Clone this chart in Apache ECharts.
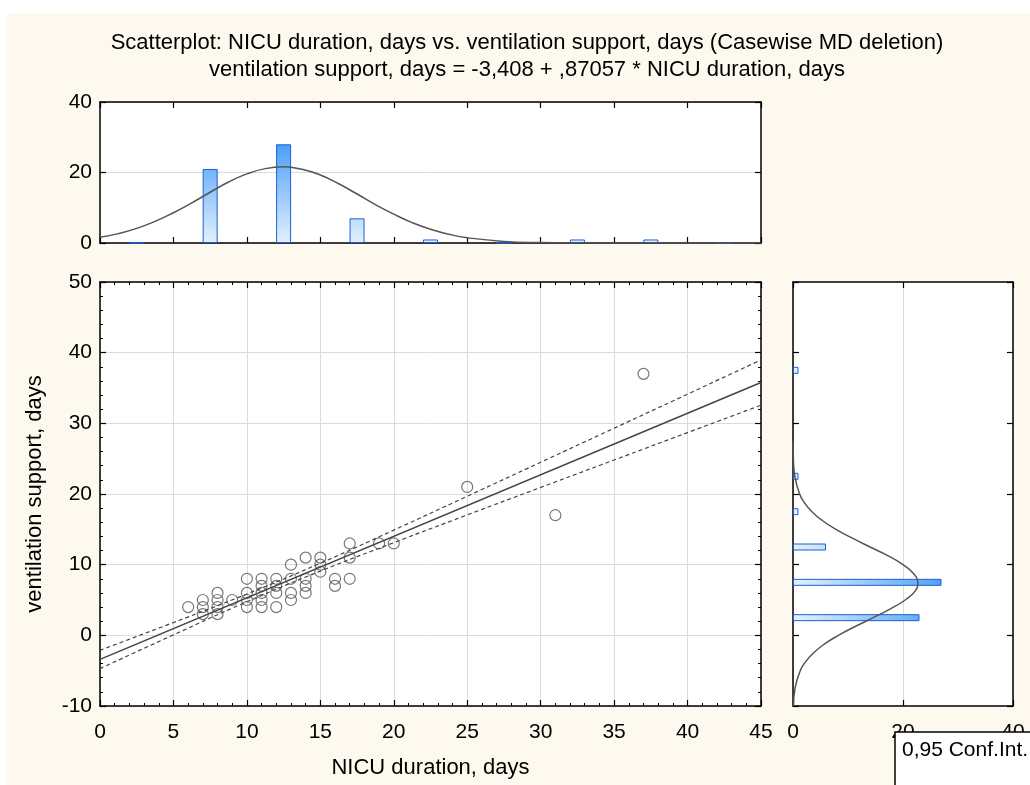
<!DOCTYPE html>
<html>
<head>
<meta charset="utf-8">
<title>NICU duration vs. ventilation support</title>
<script src="https://cdn.jsdelivr.net/npm/echarts/dist/echarts.min.js"></script>
<style>
html, body { margin: 0; padding: 0; background: #fff; }
#main { width: 1030px; height: 785px; }
</style>
</head>
<body>
<div id="main"></div>
<script>
// scatter points : NICU duration (x) / ventilation support (y), days
var nicuDays = [6, 7, 7, 7, 8, 8, 8, 8, 9, 10, 10, 10, 10, 11, 11, 11, 11, 11,
                12, 12, 12, 12, 13, 13, 13, 13, 14, 14, 14, 14, 15, 15, 15,
                16, 16, 17, 17, 17, 19, 20, 25, 31, 37];
var ventDays = [4, 5, 4, 3, 6, 5, 4, 3, 5, 8, 6, 5, 4, 8, 7, 6, 5, 4,
                8, 7, 6, 4, 10, 8, 6, 5, 11, 8, 7, 6, 11, 10, 9,
                8, 7, 13, 11, 8, 13, 13, 21, 17, 37];

// regression line ends and the 0,95 confidence band
var fitX = [0, 45];
var fitY = [-3.408, 35.77];
var ciX = [0, 5, 10, 15, 20, 25, 30, 35, 40, 45];
var ciUpper = [-2.11, 1.81, 5.85, 10.21, 14.89, 19.68, 24.49, 29.31, 34.13, 38.97];
var ciLower = [-4.71, 0.07, 4.75, 9.09, 13.11, 17.04, 20.93, 24.81, 28.69, 32.57];

// top histogram : NICU duration
var nicuBins = [2.5, 7.5, 12.5, 17.5, 22.5, 27.5, 32.5, 37.5, 42.5];
var nicuCounts = [0, 21, 28, 7, 1, 0, 1, 1, 0];
var nicuCurveX = [0, 1.25, 2.5, 3.75, 5, 6.25, 7.5, 8.75, 10, 11.25, 12.5, 13.75, 15, 16.25,
                  17.5, 18.75, 20, 21.25, 22.5, 23.75, 25, 27.5, 30, 32.5, 35, 40, 45];
var nicuCurveY = [1.62, 2.66, 4.15, 6.13, 8.59, 11.4, 14.4, 17.3, 19.6, 21.1, 21.6, 20.9, 19.3, 16.8,
                  13.9, 10.9, 8.17, 5.78, 3.88, 2.47, 1.49, 0.46, 0.12, 0.02, 0, 0, 0];

// right histogram : ventilation support
var ventBins = ['-7.5', '-2.5', '2.5', '7.5', '12.5', '17.5', '22.5', '27.5', '32.5', '37.5', '42.5', '47.5'];
var ventCounts = [0, 0, 23, 27, 6, 1, 1, 0, 0, 1, 0, 0];
var ventCurveY = [-10, -7.5, -5, -3.75, -2.5, -1.25, 0, 1.25, 2.5, 3.75, 5, 6.25, 7.5, 8.75,
                  10, 11.25, 12.5, 13.75, 15, 16.25, 17.5, 18.75, 20, 22.5, 25, 27.5];
var ventCurveN = [0.08, 0.37, 1.32, 2.28, 3.71, 5.69, 8.25, 11.3, 14.6, 17.7, 20.4, 22.2, 22.7, 21.9,
                  20.0, 17.3, 14.0, 10.8, 7.8, 5.33, 3.44, 2.10, 1.21, 0.34, 0.07, 0.01];

var xTicks = [0, 45, 5];      // min, max, interval
var yTicks = [-10, 50, 10];
var titleLines = ['Scatterplot: NICU duration, days vs. ventilation support, days (Casewise MD deletion)',
                  'ventilation support, days = -3,408 + ,87057 * NICU duration, days'];

var FONT = '"Liberation Sans", Arial, sans-serif';
var FRAME = { show: true, onZero: false, lineStyle: { color: '#000', width: 1.5 } };
var GRIDLINE = { show: true, lineStyle: { color: '#dcdcdc', width: 1 } };

function pairs(a, b) {
	var out = [];
	for (var i = 0; i < a.length; i++) {
		out.push([a[i], b[i]]);
	}
	return out;
}

// empty bins are not drawn in the side histogram
function skipZero(a) {
	return a.map(function (v) { return v === 0 ? '-' : v; });
}

// one value axis with a frame line and inside ticks
function valueAxis(grid, pos, min, max, interval, opts) {
	opts = opts || {};
	return {
		type: 'value',
		gridIndex: grid,
		position: pos,
		min: min,
		max: max,
		interval: interval,
		axisLine: FRAME,
		axisTick: { show: true, inside: true, length: 6, lineStyle: { color: '#000', width: 1.2 } },
		minorTick: opts.minor ? { show: true, splitNumber: 5, length: 3, lineStyle: { color: '#000' } } : { show: false },
		axisLabel: opts.labels ? { show: true, color: '#000', fontSize: 21, fontFamily: FONT, margin: opts.margin || 8 } : { show: false },
		splitLine: opts.split ? GRIDLINE : { show: false },
		name: opts.name || '',
		nameLocation: 'middle',
		nameGap: opts.nameGap || 0,
		nameTextStyle: { color: '#000', fontSize: 22, fontFamily: FONT }
	};
}

function buildOption() {
	var xAxes = [
		valueAxis(0, 'bottom', xTicks[0], xTicks[1], xTicks[2]),
		valueAxis(0, 'top', xTicks[0], xTicks[1], xTicks[2]),
		valueAxis(1, 'bottom', xTicks[0], xTicks[1], xTicks[2],
			{ labels: true, margin: 16, minor: true, split: true, name: 'NICU duration, days', nameGap: 51 }),
		valueAxis(1, 'top', xTicks[0], xTicks[1], xTicks[2], { minor: true }),
		valueAxis(2, 'bottom', 0, 40, 20, { labels: true, margin: 16, split: true }),
		valueAxis(2, 'top', 0, 40, 20)
	];
	var yAxes = [
		valueAxis(0, 'left', 0, 40, 20, { labels: true, split: true }),
		valueAxis(0, 'right', 0, 40, 20),
		valueAxis(1, 'left', yTicks[0], yTicks[1], yTicks[2],
			{ labels: true, minor: true, split: true, name: 'ventilation support, days', nameGap: 54 }),
		valueAxis(1, 'right', yTicks[0], yTicks[1], yTicks[2], { minor: true }),
		valueAxis(2, 'left', yTicks[0], yTicks[1], yTicks[2]),
		valueAxis(2, 'right', yTicks[0], yTicks[1], yTicks[2]),
		{ type: 'category', gridIndex: 2, data: ventBins, show: false, boundaryGap: true }
	];

	var topFill = new echarts.graphic.LinearGradient(0, 102, 0, 243, [
		{ offset: 0, color: '#0a7cf4' }, { offset: 1, color: '#e4f1fe' }], true);
	var sideFill = new echarts.graphic.LinearGradient(793, 0, 1013, 0, [
		{ offset: 0, color: '#e4f1fe' }, { offset: 1, color: '#0a7cf4' }], true);
	var curveLine = { color: '#555', width: 1.5 };

	return {
		backgroundColor: '#fff',
		animation: false,
		grid: [
			{ left: 100, top: 102, width: 661, height: 141, show: true, backgroundColor: '#fff', borderWidth: 0 },
			{ left: 100, top: 282, width: 661, height: 424, show: true, backgroundColor: '#fff', borderWidth: 0 },
			{ left: 793, top: 282, width: 220, height: 424, show: true, backgroundColor: '#fff', borderWidth: 0 }
		],
		xAxis: xAxes,
		yAxis: yAxes,
		graphic: [
			{ type: 'rect', z: -100, shape: { x: 7, y: 13, width: 1023, height: 772 }, style: { fill: '#fdf9ee' } },
			{ type: 'text', z: 10, style: { x: 527, y: 43, text: titleLines[0], textAlign: 'center', textVerticalAlign: 'middle',
				font: '22px ' + FONT, fill: '#000' } },
			{ type: 'text', z: 10, style: { x: 527, y: 70, text: titleLines[1], textAlign: 'center', textVerticalAlign: 'middle',
				font: '22px ' + FONT, fill: '#000' } },
			{ type: 'rect', z: 100, shape: { x: 895, y: 732, width: 200, height: 100 },
				style: { fill: '#fff', stroke: '#000', lineWidth: 1.5 } },
			{ type: 'text', z: 101, style: { x: 902, y: 750, text: '0,95 Conf.Int.', textVerticalAlign: 'middle',
				font: '21px ' + FONT, fill: '#000' } }
		],
		series: [
			{
				type: 'bar', xAxisIndex: 0, yAxisIndex: 0, barWidth: 15,
				data: pairs(nicuBins, nicuCounts),
				itemStyle: { color: topFill, borderColor: '#1c5fd4', borderWidth: 1 }
			},
			{
				type: 'line', xAxisIndex: 0, yAxisIndex: 0, smooth: true, showSymbol: false,
				data: pairs(nicuCurveX, nicuCurveY), lineStyle: curveLine
			},
			{
				type: 'scatter', xAxisIndex: 2, yAxisIndex: 2, symbol: 'circle', symbolSize: 11,
				data: pairs(nicuDays, ventDays),
				itemStyle: { color: 'rgba(0,0,0,0)', borderColor: '#555', borderWidth: 1.2 }
			},
			{
				type: 'line', xAxisIndex: 2, yAxisIndex: 2, showSymbol: false,
				data: pairs(fitX, fitY), lineStyle: { color: '#444', width: 1.5 }
			},
			{
				type: 'line', xAxisIndex: 2, yAxisIndex: 2, showSymbol: false, smooth: true,
				data: pairs(ciX, ciUpper), lineStyle: { color: '#444', width: 1.2, type: [4, 3] }
			},
			{
				type: 'line', xAxisIndex: 2, yAxisIndex: 2, showSymbol: false, smooth: true,
				data: pairs(ciX, ciLower), lineStyle: { color: '#444', width: 1.2, type: [4, 3] }
			},
			{
				type: 'bar', xAxisIndex: 4, yAxisIndex: 6, barWidth: 7,
				data: skipZero(ventCounts),
				itemStyle: { color: sideFill, borderColor: '#1c5fd4', borderWidth: 1 }
			},
			{
				type: 'line', xAxisIndex: 4, yAxisIndex: 4, smooth: true, showSymbol: false,
				data: pairs(ventCurveN, ventCurveY), lineStyle: curveLine
			}
		]
	};
}

var myChart = echarts.init(document.getElementById('main'));
myChart.setOption(buildOption());
</script>
</body>
</html>
